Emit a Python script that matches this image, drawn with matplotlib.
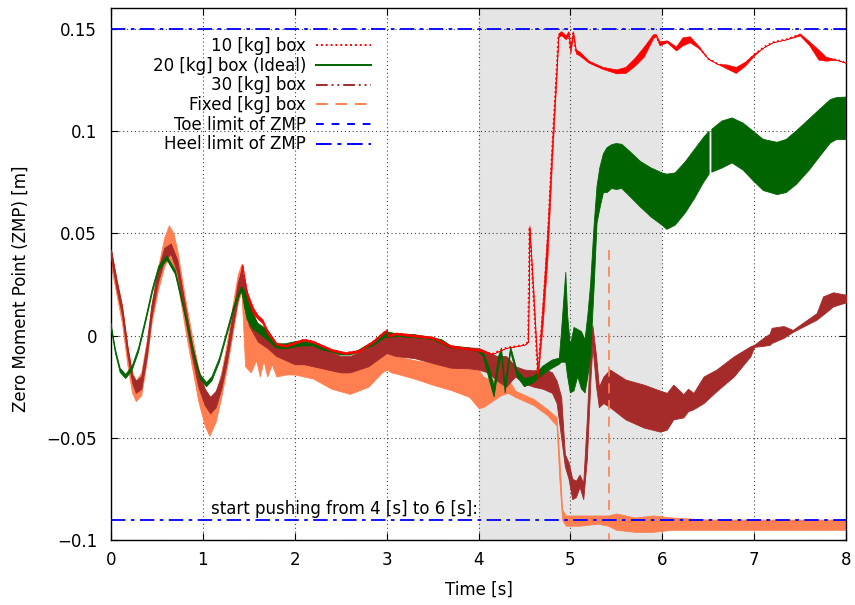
import numpy as np
import matplotlib
matplotlib.use("Agg")
import matplotlib.pyplot as plt
from matplotlib.lines import Line2D

plt.rcParams['font.family'] = ['DejaVu Sans']
FS = 12

# 10 [kg] box  (centre line and band thickness)
red_t = [0, 0.06, 0.12, 0.18, 0.23, 0.27, 0.33, 0.39, 0.44, 0.51,
         0.58, 0.65, 0.72, 0.80, 0.88, 0.95, 1.02, 1.08, 1.14, 1.20,
         1.26, 1.32, 1.38, 1.43, 1.48, 1.55, 1.60, 1.65, 1.70, 1.80,
         1.90, 2.00, 2.10, 2.20, 2.30, 2.40, 2.55, 2.70, 2.85, 3.00,
         3.02, 3.10, 3.30, 3.50, 3.70, 3.90, 4.00, 4.15, 4.30, 4.50,
         4.54, 4.555, 4.60, 4.645, 4.70, 4.75, 4.80, 4.85, 4.87, 4.90,
         4.95, 4.98, 5.00, 5.03, 5.06, 5.10, 5.20, 5.35, 5.50, 5.60,
         5.70, 5.80, 5.90, 5.93, 5.97, 6.05, 6.15, 6.22, 6.30, 6.40,
         6.50, 6.60, 6.70, 6.80, 6.90, 7.00, 7.10, 7.20, 7.35, 7.50,
         7.60, 7.70, 7.78, 7.90, 8.00]
red_y = [0.041, 0.026, 0.013, -0.007, -0.020, -0.025, -0.022, -0.006, 0.013, 0.030,
         0.041, 0.044, 0.036, 0.015, -0.005, -0.019, -0.028, -0.033, -0.030, -0.022,
         -0.008, 0.008, 0.024, 0.034, 0.020, 0.012, 0.009, 0.007, 0.002, -0.004,
         -0.005, -0.0035, -0.002, -0.003, -0.005, -0.007, -0.0085, -0.0075, -0.003, 0.0026,
         0.000, 0.001, 0.000, -0.001, -0.0052, -0.0065, -0.007, -0.009, -0.006, -0.0045,
         -0.003, 0.053, 0.018, -0.019, 0.012, 0.045, 0.090, 0.130, 0.147, 0.148,
         0.146, 0.148, 0.140, 0.148, 0.139, 0.138, 0.134, 0.131, 0.1293, 0.130,
         0.134, 0.139, 0.1465, 0.147, 0.143, 0.144, 0.1405, 0.144, 0.145, 0.141,
         0.1355, 0.133, 0.1317, 0.130, 0.133, 0.1375, 0.141, 0.1435, 0.145, 0.1473,
         0.143, 0.1375, 0.1355, 0.135, 0.1334]
red_w = [0.002, 0.002, 0.002, 0.002, 0.002, 0.002, 0.002, 0.002, 0.002, 0.002,
         0.002, 0.002, 0.002, 0.002, 0.002, 0.002, 0.002, 0.002, 0.002, 0.002,
         0.002, 0.002, 0.002, 0.002, 0.003, 0.003, 0.002, 0.002, 0.002, 0.001,
         0.001, 0.001, 0.001, 0.001, 0.001, 0.001, 0.001, 0.001, 0.001, 0.001,
         0.001, 0.001, 0.001, 0.001, 0.001, 0.001, 0.001, 0, 0, 0,
         0, 0.002, 0.006, 0.004, 0.012, 0.015, 0.010, 0.006, 0.002, 0.002,
         0.002, 0.002, 0.004, 0.002, 0.002, 0.002, 0.001, 0.001, 0.002, 0.003,
         0.004, 0.005, 0.002, 0.001, 0.002, 0.001, 0.002, 0.004, 0.003, 0.001,
         0, 0, 0.002, 0.003, 0.002, 0.001, 0, 0, 0, 0.001,
         0.002, 0.005, 0.002, 0, 0]

# 20 [kg] box (Ideal)
green_t = [0, 0.05, 0.10, 0.16, 0.23, 0.30, 0.38, 0.45, 0.52, 0.61,
           0.70, 0.80, 0.90, 0.97, 1.04, 1.10, 1.18, 1.26, 1.34, 1.42,
           1.48, 1.55, 1.60, 1.70, 1.80, 1.90, 2.00, 2.10, 2.20, 2.30,
           2.40, 2.50, 2.60, 2.70, 2.85, 2.98, 3.10, 3.30, 3.50, 3.60,
           3.70, 3.90, 4.00, 4.05, 4.12, 4.17, 4.22, 4.25, 4.29, 4.35,
           4.42, 4.50, 4.60, 4.70, 4.80, 4.88, 4.90, 4.95, 4.97, 5.00,
           5.04, 5.08, 5.12, 5.16, 5.19, 5.22, 5.26, 5.29, 5.32, 5.36,
           5.40, 5.45, 5.50, 5.56, 5.65, 5.76, 5.88, 6.00, 6.05, 6.14,
           6.25, 6.35, 6.45, 6.51, 6.525, 6.54, 6.65, 6.76, 6.88, 6.99,
           7.10, 7.25, 7.35, 7.46, 7.60, 7.72, 7.83, 7.90, 8.00]
green_lo = [0.004, -0.009, -0.018, -0.021, -0.017, -0.008, 0.007, 0.021, 0.032, 0.037,
            0.030, 0.011, -0.010, -0.021, -0.025, -0.022, -0.013, 0.000, 0.013, 0.022,
            0.008, 0.003, 0.0015, -0.002, -0.006, -0.0065, -0.0055, -0.005, -0.005, -0.007,
            -0.008, -0.0095, -0.0095, -0.008, -0.005, -0.001, -0.0005, -0.001, -0.002, -0.004,
            -0.006, -0.007, -0.008, -0.010, -0.022, -0.030, -0.015, -0.009, -0.028, -0.008,
            -0.020, -0.025, -0.023, -0.019, -0.016, -0.014, -0.013, -0.013, -0.020, -0.028,
            -0.027, -0.020, -0.026, -0.028, -0.020, -0.010, 0.025, 0.055, 0.062, 0.070,
            0.070, 0.072, 0.0715, 0.072, 0.068, 0.063, 0.058, 0.054, 0.052, 0.054,
            0.060, 0.067, 0.075, 0.079, np.nan, 0.080, 0.082, 0.0845, 0.081, 0.0758,
            0.071, 0.069, 0.070, 0.074, 0.081, 0.088, 0.0943, 0.096, 0.0959]
green_hi = [0.006, -0.007, -0.016, -0.019, -0.015, -0.006, 0.009, 0.023, 0.034, 0.039,
            0.032, 0.013, -0.008, -0.019, -0.023, -0.020, -0.011, 0.002, 0.015, 0.024,
            0.020, 0.010, 0.006, 0.003, -0.004, -0.004, -0.003, -0.0023, -0.003, -0.005,
            -0.007, -0.0085, -0.009, -0.007, -0.003, 0.002, 0.001, 0.0005, -0.001, -0.002,
            -0.005, -0.006, -0.007, -0.008, -0.016, -0.025, -0.010, -0.006, -0.024, -0.0055,
            -0.017, -0.021, -0.020, -0.015, -0.012, -0.011, 0.000, 0.031, 0.010, -0.005,
            0.004, 0.003, 0.002, -0.002, 0.010, 0.025, 0.055, 0.073, 0.082, 0.089,
            0.092, 0.0934, 0.094, 0.0936, 0.090, 0.0853, 0.082, 0.0796, 0.079, 0.0796,
            0.085, 0.091, 0.097, 0.100, np.nan, 0.101, 0.105, 0.1065, 0.104, 0.100,
            0.096, 0.0946, 0.096, 0.1002, 0.106, 0.111, 0.1155, 0.1165, 0.1167]

# 30 [kg] box
brown_t = [0, 0.06, 0.12, 0.18, 0.23, 0.27, 0.33, 0.39, 0.44, 0.51,
           0.58, 0.65, 0.72, 0.80, 0.88, 0.95, 1.02, 1.08, 1.14, 1.20,
           1.26, 1.32, 1.38, 1.42, 1.50, 1.60, 1.70, 1.80, 2.00, 2.10,
           2.30, 2.50, 2.60, 2.80, 3.00, 3.10, 3.30, 3.50, 3.70, 3.90,
           4.00, 4.10, 4.20, 4.30, 4.40, 4.50, 4.60, 4.70, 4.80, 4.85,
           4.90, 4.94, 4.98, 5.02, 5.06, 5.10, 5.14, 5.18, 5.22, 5.24,
           5.28, 5.31, 5.36, 5.43, 5.60, 5.80, 5.98, 6.05, 6.12, 6.23,
           6.28, 6.34, 6.45, 6.59, 6.78, 6.96, 7.00, 7.10, 7.17, 7.19,
           7.32, 7.42, 7.68, 7.75, 7.86, 8.00]
brown_lo = [0.038, 0.023, 0.010, -0.010, -0.023, -0.028, -0.026, -0.010, 0.009, 0.026,
            0.037, 0.040, 0.031, 0.010, -0.010, -0.025, -0.034, -0.038, -0.035, -0.026,
            -0.013, 0.003, 0.018, 0.024, 0.005, -0.003, -0.006, -0.010, -0.014, -0.014,
            -0.016, -0.018, -0.018, -0.015, -0.0085, -0.010, -0.011, -0.0134, -0.0157, -0.016,
            -0.0166, -0.018, -0.022, -0.025, -0.020, -0.0235, -0.025, -0.026, -0.028, -0.033,
            -0.050, -0.064, -0.070, -0.080, -0.079, -0.074, -0.080, -0.060, -0.020, -0.005,
            -0.025, -0.035, -0.033, -0.035, -0.041, -0.045, -0.047, -0.046, -0.041, -0.040,
            -0.037, -0.036, -0.033, -0.0272, -0.0199, -0.0101, -0.0055, -0.005, -0.0045, -0.0036,
            -0.0011, 0.0018, 0.0078, 0.0103, 0.0143, 0.0163]
brown_hi = [0.042, 0.027, 0.014, -0.006, -0.019, -0.022, -0.020, -0.004, 0.015, 0.032,
            0.043, 0.045, 0.037, 0.016, -0.004, -0.017, -0.026, -0.030, -0.027, -0.020,
            -0.007, 0.009, 0.026, 0.032, 0.018, 0.004, 0.000, -0.005, -0.005, -0.004,
            -0.006, -0.010, -0.010, -0.006, 0.0005, -0.0003, -0.001, -0.002, -0.0054, -0.0058,
            -0.006, -0.008, -0.010, -0.010, -0.015, -0.0166, -0.017, -0.016, -0.018, -0.022,
            -0.030, -0.058, -0.062, -0.070, -0.071, -0.068, -0.072, -0.040, 0.000, 0.005,
            -0.010, -0.025, -0.020, -0.0166, -0.0215, -0.024, -0.027, -0.028, -0.024, -0.0287,
            -0.026, -0.028, -0.020, -0.0166, -0.0101, -0.0052, -0.0045, -0.0011, 0.0010, 0.0038,
            0.0047, 0.0028, 0.011, 0.0192, 0.0212, 0.020]

# Fixed [kg] box
coral_t = [0, 0.06, 0.12, 0.18, 0.23, 0.27, 0.33, 0.39, 0.44, 0.51,
           0.58, 0.63, 0.68, 0.72, 0.80, 0.88, 0.95, 1.02, 1.07, 1.14,
           1.20, 1.26, 1.32, 1.38, 1.42, 1.46, 1.52, 1.58, 1.62, 1.66,
           1.70, 1.75, 1.80, 1.90, 2.00, 2.20, 2.40, 2.60, 2.80, 2.95,
           3.00, 3.05, 3.10, 3.30, 3.50, 3.70, 3.90, 4.00, 4.05, 4.15,
           4.25, 4.32, 4.40, 4.60, 4.75, 4.85, 4.88, 4.91, 4.95, 5.10,
           5.30, 5.41, 5.50, 5.70, 5.90, 6.10, 6.50, 7.00, 7.50, 8.00]
coral_lo = [0.034, 0.020, 0.006, -0.015, -0.028, -0.032, -0.029, -0.012, 0.006, 0.022,
            0.034, 0.038, 0.034, 0.027, 0.005, -0.015, -0.032, -0.044, -0.049, -0.042,
            -0.030, -0.016, 0.000, 0.016, 0.022, -0.015, -0.018, -0.012, -0.020, -0.012,
            -0.020, -0.014, -0.020, -0.019, -0.019, -0.021, -0.026, -0.0285, -0.025, -0.018,
            -0.0166, -0.018, -0.0185, -0.021, -0.024, -0.0266, -0.030, -0.0354, -0.035, -0.032,
            -0.029, -0.028, -0.030, -0.034, -0.039, -0.044, -0.070, -0.090, -0.093, -0.093,
            -0.092, -0.093, -0.095, -0.096, -0.096, -0.095, -0.095, -0.095, -0.095, -0.095]
coral_hi = [0.042, 0.028, 0.015, -0.005, -0.018, -0.022, -0.018, -0.002, 0.015, 0.033,
            0.048, 0.054, 0.050, 0.042, 0.020, 0.000, -0.016, -0.026, -0.030, -0.028,
            -0.018, -0.004, 0.014, 0.030, 0.035, 0.022, 0.008, 0.003, 0.000, -0.002,
            -0.004, -0.006, -0.007, -0.009, -0.010, -0.011, -0.016, -0.0183, -0.014, -0.009,
            -0.003, -0.008, -0.010, -0.012, -0.0134, -0.0157, -0.016, -0.0166, -0.020, -0.022,
            -0.019, -0.021, -0.027, -0.031, -0.036, -0.040, -0.060, -0.085, -0.088, -0.088,
            -0.088, -0.088, -0.087, -0.089, -0.088, -0.089, -0.090, -0.090, -0.090, -0.090]
coral_spike_t = [5.42, 5.42]
coral_spike_y = [0.042, -0.100]

toe_limit = 0.15
heel_limit = -0.09
push_start, push_end = 4, 6

RED, GREEN, BROWN, CORAL, BLUE = '#ff0000', '#006400', '#a52a2a', '#ff7f50', '#0000ff'

fig = plt.figure(figsize=(8.55, 6.05), dpi=100)
ax = fig.add_axes([111 / 855, 1 - 540 / 605, 735 / 855, 532 / 605])

ax.axvspan(push_start, push_end, color='#e5e5e5', lw=0, zorder=0)

# bands
ax.fill_between(coral_t, coral_lo, coral_hi, color=CORAL, lw=0.6, zorder=2)
ax.plot(coral_spike_t, coral_spike_y, color=CORAL, lw=1.2, dashes=(6, 4), zorder=6)

ax.fill_between(brown_t, brown_lo, brown_hi, color=BROWN, lw=0.6, zorder=3)
ax.fill_between(green_t, green_lo, green_hi, color=GREEN, lw=0.6, zorder=4)

rt = np.array(red_t)
ry = np.array(red_y)
rw = np.array(red_w)
early = rt <= 1.45
late = rt >= 1.43
# the first swings sit under the heavier boxes, the rest is on top
ax.fill_between(rt[early], (ry - rw / 2)[early], (ry + rw / 2)[early],
                color=RED, lw=0.4, zorder=2.5)
ax.fill_between(rt[late], (ry - rw / 2)[late], (ry + rw / 2)[late],
                color=RED, lw=0.4, zorder=5)
ax.plot(rt[late], ry[late], color=RED, lw=1.3, dashes=(1, 1.5), zorder=5)

ax.axhline(toe_limit, color=BLUE, lw=1.3, dashes=(8, 3, 2, 3), zorder=7)
ax.axhline(heel_limit, color=BLUE, lw=1.3, dashes=(8, 3, 2, 3), zorder=7)

ax.text(1.09, -0.0872, 'start pushing from 4 [s] to 6 [s]:', fontsize=FS,
        ha='left', va='baseline', zorder=8)

ax.set_xlim(0, 8)
ax.set_ylim(-0.1, 0.1603)
ax.set_xticks(range(0, 9))
yt = [-0.1, -0.05, 0, 0.05, 0.1, 0.15]
ax.set_yticks(yt)
ax.set_yticklabels(['\u22120.1', '\u22120.05', '0', '0.05', '0.1', '0.15'])
ax.tick_params(direction='in', top=True, right=True, length=5, labelsize=FS)
ax.tick_params(axis='x', pad=8)
ax.tick_params(axis='y', pad=10)
ax.grid(True, color='#444444', lw=0.8, dashes=(1, 2.5))
ax.set_axisbelow(True)
for s in ax.spines.values():
    s.set_linewidth(1.0)

ax.set_xlabel('Time [s]', fontsize=FS)
ax.xaxis.set_label_coords(0.5, -0.076)
ax.set_ylabel('Zero Moment Point (ZMP) [m]', fontsize=FS)
ax.yaxis.set_label_coords(-0.110, 0.472)

handles = [
    Line2D([], [], color=RED, lw=1.4, dashes=(1, 1.5)),
    Line2D([], [], color=GREEN, lw=1.4),
    Line2D([], [], color=BROWN, lw=1.4, dashes=(6, 2, 1, 2, 1, 2)),
    Line2D([], [], color=CORAL, lw=1.4, dashes=(6, 4)),
    Line2D([], [], color=BLUE, lw=1.4, dashes=(4, 4)),
    Line2D([], [], color=BLUE, lw=1.4, dashes=(8, 3, 2, 3)),
]
labels = ['10 [kg] box', '20 [kg] box (Ideal)', '30 [kg] box', 'Fixed [kg] box',
          'Toe limit of ZMP', 'Heel limit of ZMP']
ax.legend(handles, labels, loc='upper right', bbox_to_anchor=(371 / 855, 1 - 37 / 605),
          bbox_transform=fig.transFigure, frameon=False, markerfirst=False,
          fontsize=FS, handlelength=3.3, labelspacing=0.1, handletextpad=0.6,
          borderaxespad=0, borderpad=0)

fig.savefig('out.png', dpi=100)
